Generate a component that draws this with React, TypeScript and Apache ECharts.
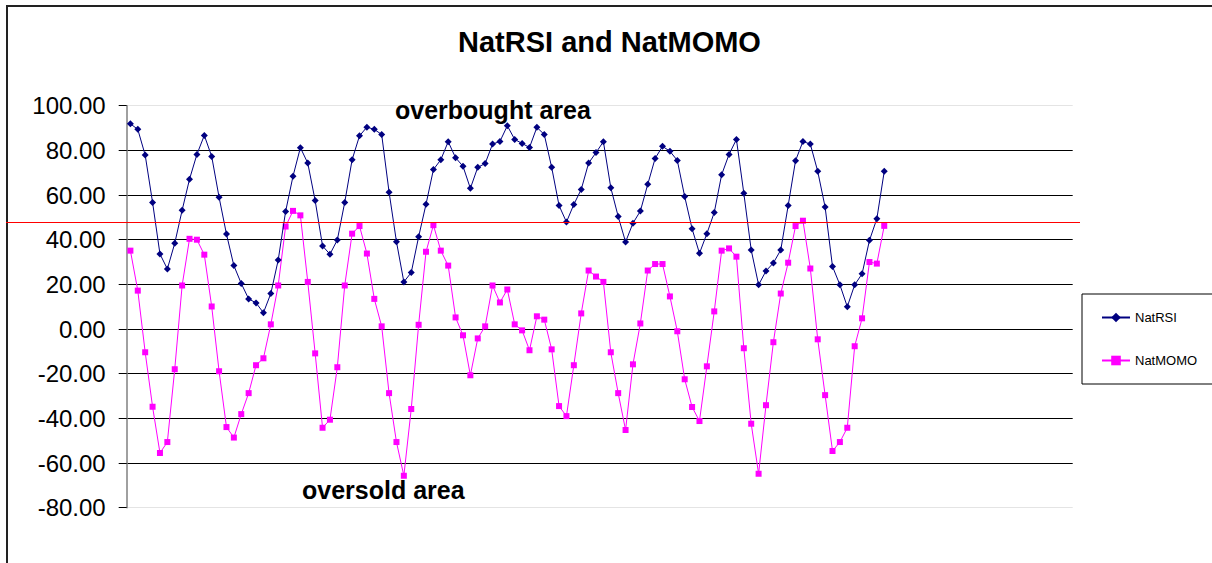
import { useEffect, useRef } from "react";
import * as echarts from "echarts";

const FONT = "'Liberation Sans', Arial, sans-serif";

const categoryCount = 128;
const categories: string[] = Array.from({ length: categoryCount }, (_, i) => String(i + 1));

const natRSI: number[] = [
  91.9, 89.4, 77.9, 56.7, 33.6, 26.9, 38.4, 53.2, 67.1, 78.2, 86.7, 77.3, 59.0, 42.5, 28.4, 20.4,
  13.5, 11.7, 7.3, 15.9, 30.9, 52.6, 68.4, 81.2, 74.3, 57.5, 37.2, 33.5, 39.9, 56.7, 75.8, 86.5, 90.4,
  89.4, 87.1, 61.3, 39.1, 21.1, 25.3, 41.3, 55.9, 71.4, 75.8, 83.9, 76.7, 72.9, 63.0, 72.4, 74.1,
  82.8, 84.0, 91.0, 84.9, 83.1, 81.3, 90.3, 87.1, 72.4, 55.3, 47.9, 55.8, 62.5, 74.3, 79.0, 83.9,
  63.3, 50.4, 39.0, 47.4, 52.8, 64.8, 76.4, 81.8, 79.6, 75.5, 59.3, 44.9, 33.9, 42.7, 52.2, 69.1,
  78.2, 84.9, 60.8, 35.4, 19.8, 26.0, 29.6, 35.4, 55.3, 75.4, 84.0, 82.8, 70.6, 54.6, 28.0, 19.8, 10.0,
  19.8, 24.7, 39.7, 49.4, 70.6,
];

const natMOMO: number[] = [
  35.1, 17.2, -10.4, -34.8, -55.5, -50.6, -18.0, 19.5, 40.4, 40.0, 33.3, 10.1, -18.9, -43.9, -48.6, -38.1,
  -28.7, -16.2, -13.1, 2.1, 19.5, 45.9, 52.9, 50.9, 21.1, -10.9, -44.2, -40.6, -17.1, 19.5, 42.7, 46.1, 33.8,
  13.5, 1.2, -28.7, -50.6, -65.7, -35.8, 1.9, 34.6, 46.5, 35.1, 28.4, 5.2, -2.8, -20.7, -4.2, 1.2,
  19.5, 11.9, 17.7, 2.1, -0.6, -9.5, 5.7, 4.2, -9.1, -34.5, -39.0, -16.2, 7.0, 26.2, 23.5, 21.1,
  -10.4, -28.7, -45.2, -15.8, 2.5, 26.2, 29.1, 29.1, 14.6, -1.0, -22.5, -34.9, -41.2, -16.7, 7.9, 35.1,
  36.1, 32.4, -8.6, -42.4, -64.8, -34.1, -5.9, 15.9, 29.7, 46.1, 48.5, 27.1, -4.6, -29.6, -54.6, -50.6, -44.2,
  -7.7, 4.8, 30.0, 29.3, 46.2,
];

const yMin = -80;
const yMax = 100;
const yInterval = 20;
const thresholdValue = 47.7;

const splitColors = ["#e4e4e4", "#000", "#000", "#000", "#000", "#000", "#000", "#000", "#000", "#e4e4e4"];

export default function App() {
  const ref = useRef<HTMLDivElement>(null);

  useEffect(() => {
    if (!ref.current) return;
    const chart = echarts.init(ref.current, null, { renderer: "svg" });
    chart.setOption({
      animation: false,
      backgroundColor: "#fff",
      title: {
        text: "NatRSI and NatMOMO",
        left: 458,
        top: 27,
        padding: 0,
        textStyle: { fontFamily: FONT, fontSize: 29, fontWeight: "bold", color: "#000" },
      },
      legend: {
        orient: "vertical",
        left: 1082,
        top: 294,
        padding: [17, 18, 17, 19],
        itemGap: 30,
        itemWidth: 28,
        itemHeight: 12,
        borderColor: "#000",
        borderWidth: 1,
        data: ["NatRSI", "NatMOMO"],
        textStyle: { fontFamily: FONT, fontSize: 13, color: "#000" },
      },
      grid: { left: 126.7, top: 105.7, right: 139.3, bottom: 55.3, containLabel: false },
      xAxis: {
        type: "category",
        data: categories,
        boundaryGap: true,
        show: false,
      },
      yAxis: {
        type: "value",
        min: yMin,
        max: yMax,
        interval: yInterval,
        axisLine: { show: true, lineStyle: { color: "#808080", width: 1.5 } },
        axisTick: { show: true, inside: false, length: 8, lineStyle: { color: "#000" } },
        axisLabel: {
          margin: 21,
          fontFamily: FONT,
          fontSize: 24,
          color: "#000",
          formatter: (v: number) => v.toFixed(2),
        },
        splitLine: { show: true, lineStyle: { color: splitColors, width: 1 } },
      },
      series: [
        {
          name: "NatRSI",
          type: "line",
          data: natRSI,
          symbol: "diamond",
          symbolSize: 7,
          showSymbol: true,
          showAllSymbol: true,
          itemStyle: { color: "#000080" },
          lineStyle: { color: "#000080", width: 1 },
          z: 3,
        },
        {
          name: "NatMOMO",
          type: "line",
          data: natMOMO,
          symbol: "rect",
          symbolSize: 6,
          showSymbol: true,
          showAllSymbol: true,
          itemStyle: { color: "#ff00ff" },
          lineStyle: { color: "#ff00ff", width: 1 },
          z: 2,
        },
      ],
      graphic: [
        {
          id: "borderLeft",
          type: "line",
          shape: { x1: 7, y1: 6, x2: 7, y2: 600 },
          style: { stroke: "#222", lineWidth: 2 },
        },
        {
          id: "borderTop",
          type: "line",
          shape: { x1: 6, y1: 6, x2: 1300, y2: 6 },
          style: { stroke: "#222", lineWidth: 2 },
        },
        {
          id: "overbought",
          type: "text",
          x: 395,
          y: 97,
          style: {
            text: "overbought area",
            fontFamily: FONT,
            fontSize: 25,
            fontWeight: "bold",
            fill: "#000",
            verticalAlign: "top",
          },
          z: 10,
        },
        {
          id: "oversold",
          type: "text",
          x: 302,
          y: 477,
          style: {
            text: "oversold area",
            fontFamily: FONT,
            fontSize: 25,
            fontWeight: "bold",
            fill: "#000",
            verticalAlign: "top",
          },
          z: 10,
        },
      ],
    });
    const yPix = chart.convertToPixel({ yAxisIndex: 0 }, thresholdValue) as number;
    chart.setOption({
      graphic: [
        {
          id: "threshold",
          type: "line",
          shape: { x1: 6, y1: yPix, x2: 1080, y2: yPix },
          style: { stroke: "#ff0000", lineWidth: 1 },
          z: 20,
        },
      ],
    });
    return () => chart.dispose();
  }, []);

  return (
    <div
      ref={ref}
      style={{ position: "absolute", left: 0, top: 0, width: 1212, height: 563 }}
    />
  );
}
